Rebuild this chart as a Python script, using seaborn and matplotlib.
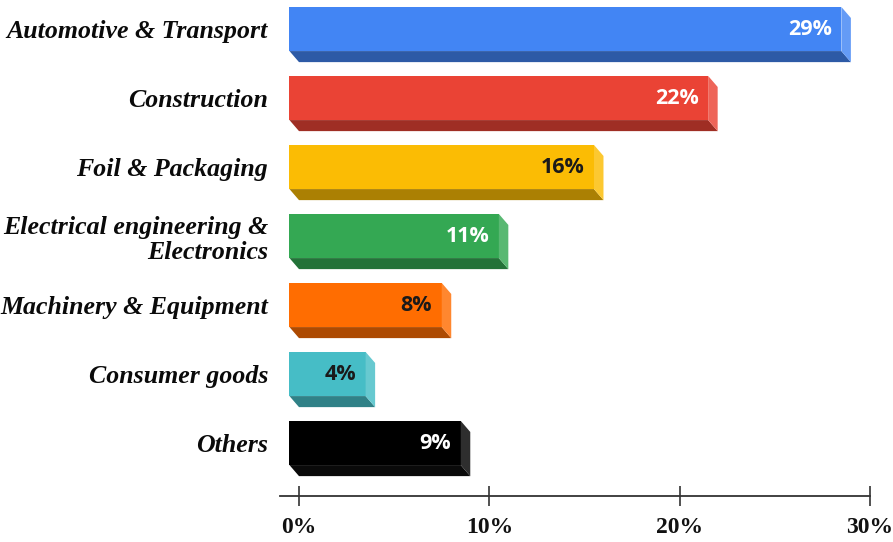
import matplotlib
matplotlib.use("Agg")
import matplotlib.pyplot as plt
import matplotlib.colors as mcolors
from matplotlib.patches import Polygon
import seaborn as sns
import pandas as pd
import numpy as np

categories = ["Automotive & Transport", "Construction", "Foil & Packaging",
              "Electrical engineering &\nElectronics", "Machinery & Equipment",
              "Consumer goods", "Others"]
shares = [29, 22, 16, 11, 8, 4, 9]
bar_colors = ["#4285F4", "#EA4335", "#FBBC04", "#34A853", "#FF6D01", "#46BDC6", "#000000"]
label_colors = ["white", "white", "#1a1a1a", "white", "#1a1a1a", "#1a1a1a", "white"]
xticks = [0, 10, 20, 30]
xtick_labels = ["0%", "10%", "20%", "30%"]

df = pd.DataFrame({"category": categories, "share": shares})

sns.set_theme(style="white")
W, H = 893, 542
fig = plt.figure(figsize=(W / 100, H / 100), dpi=100)
ax_left, ax_right = 275, 893
ax_top, ax_bot = 0, 496
ax = fig.add_axes([ax_left / W, 1 - ax_bot / H, (ax_right - ax_left) / W, (ax_bot - ax_top) / H])

sns.barplot(data=df, x="share", y="category", hue="category", palette=bar_colors,
            legend=False, orient="h", width=0.64, saturation=1, ax=ax, linewidth=0)

px_per_unit = 19.03
x0px = 299
ax.set_xlim((ax_left - x0px) / px_per_unit, (ax_right - x0px) / px_per_unit)
ax.set_ylim((ax_bot - 29) / 69, (ax_top - 29) / 69)

dx = 0.5   # depth in data x
dy = 0.16  # depth in data y (downwards on screen)


def shade(c, f):
    r, g, b = mcolors.to_rgb(c)
    return (r * f, g * f, b * f)


def tint(c, f):
    r, g, b = mcolors.to_rgb(c)
    return (r + (1 - r) * f, g + (1 - g) * f, b + (1 - b) * f)


for i, p in enumerate(ax.patches[:len(shares)]):
    w = p.get_width()
    p.set_x(p.get_x() - dx)
    x0 = p.get_x()
    x1 = x0 + w
    yt = p.get_y()
    yb = yt + p.get_height()
    c = bar_colors[i]
    if c == "#000000":
        side_c, bot_c = "#2e2e2e", "#0a0a0a"
    else:
        side_c, bot_c = tint(c, 0.18), shade(c, 0.68)
    bottom = Polygon([(x0, yb), (x1, yb), (x1 + dx, yb + dy), (x0 + dx, yb + dy)],
                     closed=True, facecolor=bot_c, edgecolor="none", zorder=1.5)
    side = Polygon([(x1, yt), (x1 + dx, yt + dy), (x1 + dx, yb + dy), (x1, yb)],
                   closed=True, facecolor=side_c, edgecolor="none", zorder=1.5)
    ax.add_patch(bottom)
    ax.add_patch(side)
    ax.text(x1 - 0.5, yt + p.get_height() / 2, f"{shares[i]}%", ha="right", va="center",
            color=label_colors[i], fontsize=15.5, fontweight="bold",
            family=["Open Sans", "DejaVu Sans"], zorder=3)

for s in ["left", "top", "right"]:
    ax.spines[s].set_visible(False)
ax.spines["bottom"].set_bounds(-1.0, 30)
ax.spines["bottom"].set_color("#333333")
ax.spines["bottom"].set_linewidth(1.3)

ax.set_xticks(xticks)
ax.set_xticklabels(xtick_labels, fontsize=17, fontweight="bold", family="Liberation Serif",
                   color="#111111")
ax.tick_params(axis="x", direction="inout", length=14, width=1.2, color="#333333", pad=8,
               bottom=True)
ax.tick_params(axis="y", length=0, pad=5)
for lab in ax.get_yticklabels():
    lab.set_fontsize(18.6)
    lab.set_fontweight("bold")
    lab.set_fontstyle("italic")
    lab.set_family("Liberation Serif")
    lab.set_color("#0a0a0a")
    lab.set_multialignment("right")
    lab.set_linespacing(1.15)

ax.set_xlabel("")
ax.set_ylabel("")
ax.grid(False)

fig.savefig("out.png", dpi=100, facecolor="white")
